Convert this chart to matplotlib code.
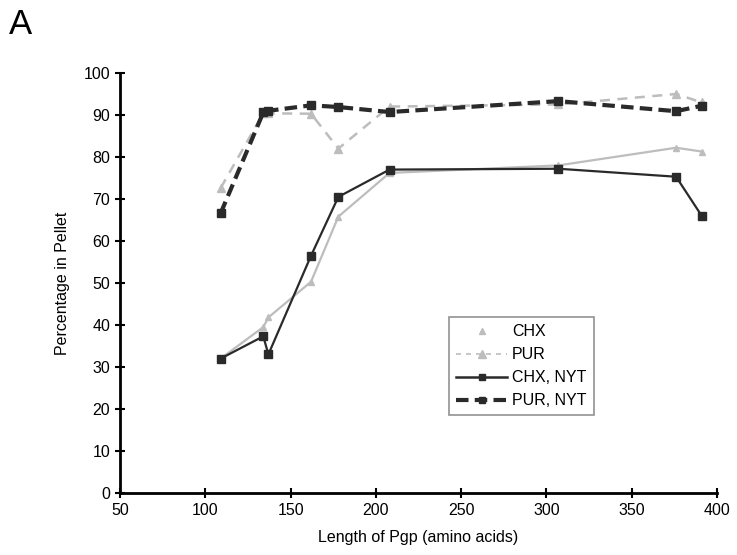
import matplotlib
matplotlib.use("Agg")
import matplotlib.pyplot as plt
from matplotlib.lines import Line2D

plt.rcParams['font.family'] = ['Liberation Sans', 'DejaVu Sans']

lengths = [109, 134, 137, 162, 178, 208, 307, 376, 391]
chx = [32, 39.5, 41.8, 50.3, 65.8, 76.2, 78, 82.2, 81.3]
pur = [72.6, 90.4, 90.4, 90.3, 82, 92, 92.5, 95, 93]
chx_nyt = [32, 37.3, 33, 56.5, 70.5, 77, 77.2, 75.3, 66]
pur_nyt = [66.6, 90.6, 91, 92.3, 91.9, 90.7, 93.3, 90.9, 92.2]

xticks = [50, 100, 150, 200, 250, 300, 350, 400]
yticks = list(range(0, 101, 10))

fig = plt.figure(figsize=(7.37, 5.55), dpi=100)
ax = fig.add_axes([0.1628, 0.1117, 0.8101, 0.7568])

light = '#bdbdbd'
dark = '#2a2a2a'
ax.plot(lengths, chx, color=light, lw=1.6, marker='^', ms=5, mfc=light, mec=light, zorder=2)
ax.plot(lengths, pur, color=light, lw=1.8, ls=(0, (4, 3)), marker='^', ms=6, mfc=light, mec=light, zorder=2)
ax.plot(lengths, chx_nyt, color=dark, lw=1.6, marker='s', ms=6, mfc=dark, mec=dark, zorder=3)
ax.plot(lengths, pur_nyt, color=dark, lw=3.0, ls=(0, (3, 1.5)), marker='s', ms=6, mfc=dark, mec=dark, zorder=3)

ax.set_xlim(50, 400)
ax.set_ylim(0, 100)
ax.set_xticks(xticks)
ax.set_yticks(yticks)
for s in ['top', 'right']:
    ax.spines[s].set_visible(False)
for s in ['left', 'bottom']:
    ax.spines[s].set_linewidth(2)
    ax.spines[s].set_color('black')
ax.tick_params(axis='both', direction='inout', length=7, width=1.5, labelsize=11.5, colors='black')
ax.tick_params(axis='x', pad=4)

ax.set_xlabel('Length of Pgp (amino acids)', fontsize=11.5, labelpad=8)
ax.set_ylabel('Percentage in Pellet', fontsize=11.5, labelpad=10)

handles = [
    Line2D([], [], color=light, ls='none', marker='^', ms=5, mfc=light, mec=light),
    Line2D([], [], color=light, lw=1.2, ls=(0, (3, 3)), marker='^', ms=6, mfc=light, mec=light),
    Line2D([], [], color=dark, lw=1.8, marker='s', ms=5, mfc=dark, mec=dark),
    Line2D([], [], color=dark, lw=3.0, ls=(0, (3, 1.5)), marker='s', ms=5, mfc=dark, mec=dark),
]
labels = ['CHX', 'PUR', 'CHX, NYT', 'PUR, NYT']
leg = ax.legend(handles, labels, loc='upper left', bbox_to_anchor=(0.551, 0.419),
                fontsize=11.5, frameon=True, fancybox=False, edgecolor='#777777',
                handlelength=3.2, handletextpad=0.3, borderpad=0.45, labelspacing=0.5,
                borderaxespad=0)
leg.get_frame().set_linewidth(1.2)

fig.text(0.012, 0.985, 'A', fontsize=25, color='black', va='top')

fig.savefig('out.png', dpi=100)
